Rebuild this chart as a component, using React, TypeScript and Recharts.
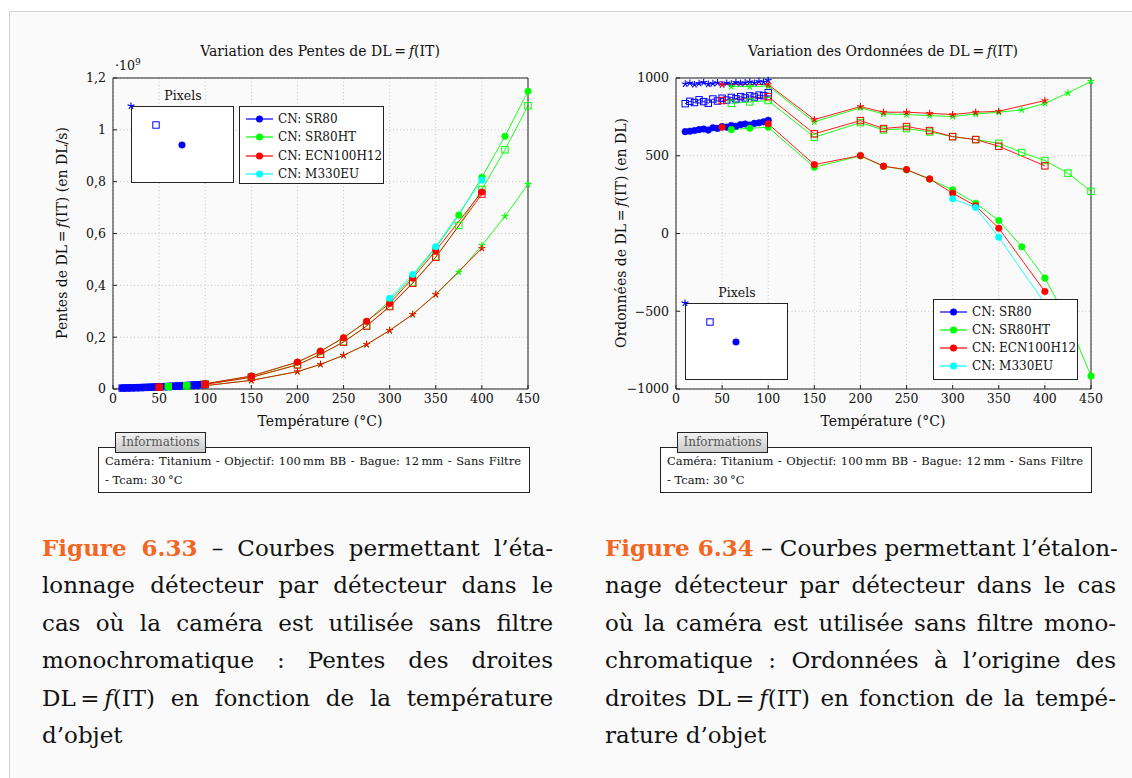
import React from 'react';
import { LineChart, Line, XAxis, YAxis, CartesianGrid, ScatterChart, Scatter } from 'recharts';

const FONT = '"DejaVu Serif", serif';
const INK = '#222';

// temperatures (°C) for each camera
const tBlue = [10, 15, 20, 25, 30, 35, 40, 45, 50, 55, 60, 65, 70, 75, 80, 85, 90, 95, 100];
const tGreen = [60, 80, 100, 150, 200, 225, 250, 275, 300, 325, 350, 375, 400, 425, 450];
const tRed = [50, 100, 150, 200, 225, 250, 275, 300, 325, 350, 400];
const tCyan = [300, 325, 350, 400];
const xTicks = [0, 50, 100, 150, 200, 250, 300, 350, 400, 450];

// slopes, in 10^9 DL/s
const slopeBlueCircle = [0.004, 0.0045, 0.005, 0.0056, 0.006, 0.0068, 0.0075, 0.0083, 0.009, 0.0098, 0.0107, 0.0116, 0.0126, 0.0136, 0.0147, 0.0158, 0.017, 0.0183, 0.0196];
const slopeBlueSquare = [0.0036, 0.004, 0.0045, 0.005, 0.0055, 0.0061, 0.0068, 0.0075, 0.0081, 0.0088, 0.0096, 0.0104, 0.0113, 0.0122, 0.0132, 0.0142, 0.0153, 0.0165, 0.0177];
const slopeBlueStar = [0.0026, 0.0029, 0.0033, 0.0036, 0.004, 0.0044, 0.0049, 0.0054, 0.0058, 0.0064, 0.0069, 0.0075, 0.0082, 0.0088, 0.0095, 0.0103, 0.011, 0.0119, 0.0128];
const slopeGreenCircle = [0.01, 0.014, 0.02, 0.05, 0.103, 0.145, 0.197, 0.26, 0.34, 0.435, 0.545, 0.671, 0.817, 0.975, 1.149];
const slopeGreenSquare = [0.009, 0.012, 0.018, 0.045, 0.094, 0.134, 0.182, 0.243, 0.32, 0.41, 0.51, 0.631, 0.77, 0.923, 1.093];
const slopeGreenStar = [0.006, 0.009, 0.013, 0.034, 0.067, 0.095, 0.13, 0.172, 0.226, 0.288, 0.365, 0.451, 0.554, 0.666, 0.79];
const slopeRedCircle = [0.008, 0.02, 0.05, 0.104, 0.146, 0.198, 0.261, 0.33, 0.428, 0.534, 0.76];
const slopeRedSquare = [0.007, 0.018, 0.045, 0.093, 0.134, 0.181, 0.243, 0.318, 0.408, 0.508, 0.752];
const slopeRedStar = [0.005, 0.013, 0.033, 0.067, 0.095, 0.13, 0.172, 0.226, 0.288, 0.365, 0.543];
const slopeCyanCircle = [0.35, 0.442, 0.549, 0.806];
const slopeTicks = [0, 0.2, 0.4, 0.6, 0.8, 1, 1.2];

// intercepts, in DL
const offBlueCircle = [655, 658, 662, 668, 672, 665, 680, 676, 688, 684, 695, 690, 700, 704, 698, 708, 712, 718, 728];
const offBlueSquare = [835, 850, 842, 860, 848, 838, 865, 852, 870, 858, 875, 866, 880, 872, 885, 878, 890, 886, 905];
const offBlueStar = [962, 968, 958, 966, 972, 960, 965, 970, 958, 968, 962, 972, 966, 970, 975, 968, 978, 974, 985];
const offGreenCircle = [668, 677, 683, 426, 499, 431, 409, 349, 281, 195, 84, -86, -287, -560, -917];
const offGreenSquare = [837, 846, 855, 619, 713, 666, 675, 653, 623, 604, 580, 521, 469, 388, 272];
const offGreenStar = [945, 945, 948, 718, 808, 769, 765, 758, 752, 769, 780, 795, 837, 904, 979];
const offRedCircle = [683, 705, 443, 501, 433, 411, 351, 259, 178, 34, -373];
const offRedSquare = [855, 880, 641, 726, 675, 688, 662, 623, 604, 561, 435];
const offRedStar = [958, 958, 733, 816, 780, 780, 773, 765, 780, 786, 855];
const offCyanCircle = [223, 167, -24, -450];
const offTicks = [-1000, -500, 0, 500, 1000];

const cameras = ['CN: SR80', 'CN: SR80HT', 'CN: ECN100H12', 'CN: M330EU'];
const camColors = ['#0000ff', '#00ff00', '#ff0000', '#00ffff'];

// inset showing the three pixels
const pixelX = [0, 25, 51];
const pixelY = [78, 59, 39];

type Mark = 'circle' | 'square' | 'star';
const pixelMarks: Mark[] = ['star', 'square', 'circle'];

type Series = { id: string; color: string; mark: Mark; data: { t: number; v: number }[] };
const zip = (ts: number[], vs: number[]) => ts.map((t, i) => ({ t, v: vs[i] }));

const slopeSeries: Series[] = [
  { id: 'bc', color: camColors[0], mark: 'circle', data: zip(tBlue, slopeBlueCircle) },
  { id: 'bs', color: camColors[0], mark: 'square', data: zip(tBlue, slopeBlueSquare) },
  { id: 'bt', color: camColors[0], mark: 'star', data: zip(tBlue, slopeBlueStar) },
  { id: 'gc', color: camColors[1], mark: 'circle', data: zip(tGreen, slopeGreenCircle) },
  { id: 'gs', color: camColors[1], mark: 'square', data: zip(tGreen, slopeGreenSquare) },
  { id: 'gt', color: camColors[1], mark: 'star', data: zip(tGreen, slopeGreenStar) },
  { id: 'rc', color: camColors[2], mark: 'circle', data: zip(tRed, slopeRedCircle) },
  { id: 'rs', color: camColors[2], mark: 'square', data: zip(tRed, slopeRedSquare) },
  { id: 'rt', color: camColors[2], mark: 'star', data: zip(tRed, slopeRedStar) },
  { id: 'cc', color: camColors[3], mark: 'circle', data: zip(tCyan, slopeCyanCircle) },
];

const offSeries: Series[] = [
  { id: 'bc', color: camColors[0], mark: 'circle', data: zip(tBlue, offBlueCircle) },
  { id: 'bs', color: camColors[0], mark: 'square', data: zip(tBlue, offBlueSquare) },
  { id: 'bt', color: camColors[0], mark: 'star', data: zip(tBlue, offBlueStar) },
  { id: 'gc', color: camColors[1], mark: 'circle', data: zip(tGreen, offGreenCircle) },
  { id: 'gs', color: camColors[1], mark: 'square', data: zip(tGreen, offGreenSquare) },
  { id: 'gt', color: camColors[1], mark: 'star', data: zip(tGreen, offGreenStar) },
  { id: 'rc', color: camColors[2], mark: 'circle', data: zip(tRed, offRedCircle) },
  { id: 'rs', color: camColors[2], mark: 'square', data: zip(tRed, offRedSquare) },
  { id: 'rt', color: camColors[2], mark: 'star', data: zip(tRed, offRedStar) },
  { id: 'cc', color: camColors[3], mark: 'circle', data: zip(tCyan, offCyanCircle) },
];

function drawMark(mark: Mark, color: string, cx: number, cy: number, key?: React.Key) {
  if (cx == null || cy == null) return <g key={key} />;
  if (mark === 'circle') return <circle key={key} cx={cx} cy={cy} r={3.3} fill={color} stroke={color} strokeWidth={0.5} />;
  if (mark === 'square')
    return <rect key={key} x={cx - 3.2} y={cy - 3.2} width={6.4} height={6.4} fill="none" stroke={color} strokeWidth={1} />;
  const r = 3.6;
  const d = [90, 162, 234, 306, 18]
    .map((a) => {
      const rad = (a * Math.PI) / 180;
      return `M${cx},${cy}L${cx + r * Math.cos(rad)},${cy - r * Math.sin(rad)}`;
    })
    .join('');
  return <path key={key} d={d} stroke={color} strokeWidth={1.1} fill="none" />;
}

const fmtSlope = (v: number) => (v === 0 ? '0' : String(Number(v.toFixed(1))).replace('.', ','));
const fmtOff = (v: number) => (v < 0 ? '\u2212' + Math.abs(v) : String(v));
const blank = () => '';

const DLf = (
  <>
    DL{'\u2009'}={'\u2009'}
    <i>f</i>(IT)
  </>
);

function Plot({ left, series, domain, ticks, fmt }: { left: number; series: Series[]; domain: [number, number]; ticks: number[]; fmt: (v: number) => string }) {
  const tickStyle = { fill: '#111', fontSize: 12.5, fontFamily: FONT };
  return (
    <div style={{ position: 'absolute', left, top: 60 }}>
      <LineChart width={490} height={359} margin={{ top: 18, right: 15, bottom: 0, left: 0 }}>
        <CartesianGrid strokeDasharray="1 2.5" stroke="#c4c4c4" />
        <XAxis dataKey="t" type="number" domain={[0, 450]} ticks={xTicks} height={30} tickSize={-4} tickMargin={9}
          stroke={INK} tick={tickStyle} />
        <XAxis xAxisId="top" orientation="top" mirror type="number" domain={[0, 450]} ticks={xTicks} height={1} tickSize={4}
          stroke={INK} tickFormatter={blank} />
        <YAxis type="number" domain={domain} ticks={ticks} width={60} tickSize={-4} tickMargin={11} stroke={INK}
          tick={tickStyle} tickFormatter={fmt} />
        <YAxis yAxisId="right" orientation="right" mirror type="number" domain={domain} ticks={ticks} width={1} tickSize={4}
          stroke={INK} tickFormatter={blank} />
        {series.map((s) => (
          <Line key={s.id} data={s.data} dataKey="v" type="linear" stroke={s.color} strokeWidth={0.9}
            dot={(p: any) => drawMark(s.mark, s.color, p.cx, p.cy, `${s.id}-${p.index}`)}
            activeDot={false} isAnimationActive={false} />
        ))}
      </LineChart>
    </div>
  );
}

function PixelInset({ left, top }: { left: number; top: number }) {
  const pts = pixelX.map((x, i) => ({ x, y: pixelY[i], m: pixelMarks[i] }));
  return (
    <>
      <div style={{ position: 'absolute', left, top: top - 18, width: 104, textAlign: 'center', fontSize: 12.5 }}>Pixels</div>
      <div style={{ position: 'absolute', left, top, width: 103, height: 77, border: `1px solid ${INK}`, background: '#fff', boxSizing: 'border-box' }} />
      <div style={{ position: 'absolute', left: left - 4, top: top - 4 }}>
        <ScatterChart width={112} height={86} margin={{ top: 4, right: 4, bottom: 4, left: 4 }} style={{ overflow: 'visible' }}>
          <XAxis dataKey="x" type="number" domain={[0, 104]} hide />
          <YAxis dataKey="y" type="number" domain={[0, 78]} hide />
          <Scatter data={pts} isAnimationActive={false}
            shape={(p: any) => drawMark(p.payload.m, camColors[0], p.cx, p.cy)} />
        </ScatterChart>
      </div>
    </>
  );
}

function CamLegend({ left, top, height, row }: { left: number; top: number; height: number; row: number }) {
  return (
    <div style={{ position: 'absolute', left, top, width: 145, height, border: `1px solid ${INK}`, background: '#fff',
      boxSizing: 'border-box', paddingTop: 3, fontSize: 12 }}>
      {cameras.map((c, i) => (
        <div key={c} style={{ display: 'flex', alignItems: 'center', height: row, whiteSpace: 'nowrap' }}>
          <svg width={34} height={10} style={{ marginLeft: 4, flex: 'none' }}>
            <line x1={2} y1={5} x2={29} y2={5} stroke={camColors[i]} strokeWidth={1.2} />
            <circle cx={15.5} cy={5} r={3.5} fill={camColors[i]} />
          </svg>
          <span>{c}</span>
        </div>
      ))}
    </div>
  );
}

function InfoBox({ left }: { left: number }) {
  return (
    <>
      <div style={{ position: 'absolute', left, top: 447, width: 432, height: 46, border: `1px solid ${INK}`, background: '#fff',
        boxSizing: 'border-box', padding: '4px 8px 0 6px', fontSize: 11.5, lineHeight: '19px' }}>
        <div style={{ textAlign: 'justify', textAlignLast: 'justify', whiteSpace: 'nowrap' }}>
          Caméra: Titanium - Objectif: 100{'\u2009'}mm BB - Bague: 12{'\u2009'}mm - Sans Filtre
        </div>
        <div>- Tcam: 30{'\u2009'}°C</div>
      </div>
      <div style={{ position: 'absolute', left: left + 17, top: 432, width: 91, height: 21, border: `1px solid ${INK}`,
        boxSizing: 'border-box', background: 'linear-gradient(#f2f2f2, #c9c9c9)', color: '#555', fontSize: 12,
        textAlign: 'center', lineHeight: '19px' }}>
        Informations
      </div>
    </>
  );
}

function AxisTexts({ cx, title, ylabel, ylx }: { cx: number; title: React.ReactNode; ylabel: React.ReactNode; ylx: number }) {
  return (
    <>
      <div style={{ position: 'absolute', left: cx - 200, width: 400, top: 43, textAlign: 'center', fontSize: 14 }}>{title}</div>
      <div style={{ position: 'absolute', left: cx - 200, width: 400, top: 413, textAlign: 'center', fontSize: 14 }}>Température (°C)</div>
      <div style={{ position: 'absolute', left: ylx, top: 233, transform: 'translate(-50%, -50%) rotate(-90deg)', whiteSpace: 'nowrap', fontSize: 14 }}>
        {ylabel}
      </div>
    </>
  );
}

const ORANGE = '#f26522';
const capLeft = [
  'lonnage détecteur par détecteur dans le',
  'cas où la caméra est utilisée sans filtre',
  'monochromatique : Pentes des droites',
];
const capRight = [
  'nage détecteur par détecteur dans le cas',
  'où la caméra est utilisée sans filtre mono-',
  'chromatique : Ordonnées à l’origine des',
];

function Caption({ left, num, first, middle, fifth, last }: { left: number; num: string; first: string; middle: string[]; fifth: React.ReactNode; last: string }) {
  const j: React.CSSProperties = { textAlign: 'justify', textAlignLast: 'justify', whiteSpace: 'nowrap' };
  return (
    <div style={{ position: 'absolute', left, top: 529, width: 511, fontSize: 23, lineHeight: '37.4px', color: '#111' }}>
      <div style={j}>
        <b style={{ color: ORANGE }}>Figure {num}</b> – {first}
      </div>
      {middle.map((m) => (
        <div key={m} style={j}>{m}</div>
      ))}
      <div style={j}>{fifth}</div>
      <div>{last}</div>
    </div>
  );
}

export default function App() {
  return (
    <div style={{ position: 'absolute', left: 0, top: 0, width: 1132, height: 778, overflow: 'hidden', background: '#fff', fontFamily: FONT, color: '#111' }}>
      <div style={{ position: 'absolute', left: 9, top: 11, width: 1140, height: 800, border: '1px solid #d2d2d2', background: '#fafafa' }} />

      <Plot left={53} series={slopeSeries} domain={[0, 1.2]} ticks={slopeTicks} fmt={fmtSlope} />
      <Plot left={616} series={offSeries} domain={[-1000, 1000]} ticks={offTicks} fmt={fmtOff} />

      <div style={{ position: 'absolute', left: 115, top: 57, fontSize: 12.5 }}>
        ·10<sup style={{ fontSize: 9 }}>9</sup>
      </div>

      <AxisTexts cx={320} ylx={62} title={<>Variation des Pentes de {DLf}</>} ylabel={<>Pentes de {DLf} (en DL/s)</>} />
      <AxisTexts cx={883} ylx={621} title={<>Variation des Ordonnées de {DLf}</>} ylabel={<>Ordonnées de {DLf} (en DL)</>} />

      <PixelInset left={131} top={106} />
      <PixelInset left={685} top={303} />
      <CamLegend left={239} top={106} height={78} row={18.3} />
      <CamLegend left={933} top={299} height={81} row={18} />

      <InfoBox left={98} />
      <InfoBox left={660} />

      <Caption left={42} num="6.33" first="Courbes permettant l’éta-" middle={capLeft}
        fifth={<>DL{'\u2009'}={'\u2009'}<i>f</i>(IT) en fonction de la température</>} last="d’objet" />
      <Caption left={605} num="6.34" first="Courbes permettant l’étalon-" middle={capRight}
        fifth={<>droites DL{'\u2009'}={'\u2009'}<i>f</i>(IT) en fonction de la tempé-</>} last="rature d’objet" />
    </div>
  );
}
